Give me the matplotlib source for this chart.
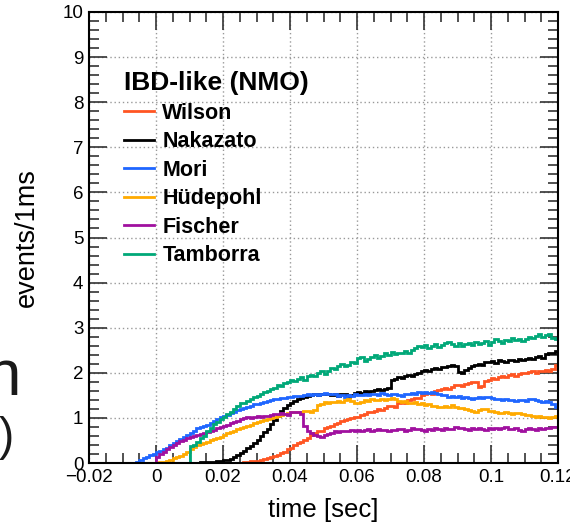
import numpy as np
import matplotlib
matplotlib.use('Agg')
import matplotlib.pyplot as plt
from matplotlib.ticker import MultipleLocator, FixedLocator, FixedFormatter

plt.rcParams['font.family'] = ['Liberation Sans', 'DejaVu Sans']

# ==================== data (events per 1 ms bin) ====================
# bins run from -0.020 s to 0.120 s, 1 ms wide; every list starts at <name>_start_ms
bin_edges_ms = list(range(-20, 121))

wilson_start_ms = 25
wilson = [0.01, 0.02, 0.02, 0.04, 0.05, 0.05, 0.07, 0.08, 0.11, 0.13,
          0.15, 0.18, 0.22, 0.25, 0.30, 0.34, 0.40, 0.44, 0.47, 0.52,
          0.56, 0.62, 0.66, 0.70, 0.72, 0.77, 0.80, 0.81, 0.86, 0.88,
          0.93, 0.95, 0.97, 0.99, 1.02, 1.03, 1.06, 1.08, 1.12, 1.13,
          1.16, 1.20, 1.18, 1.23, 1.26, 1.27, 1.25, 1.32, 1.35, 1.33,
          1.40, 1.42, 1.45, 1.44, 1.50, 1.52, 1.55, 1.53, 1.60, 1.62,
          1.63, 1.66, 1.64, 1.68, 1.72, 1.73, 1.70, 1.76, 1.78, 1.80,
          1.79, 1.68, 1.70, 1.82, 1.85, 1.88, 1.86, 1.90, 1.92, 1.90,
          1.95, 1.97, 1.94, 1.98, 2.00, 1.99, 2.02, 2.03, 2.00, 2.05,
          2.04, 2.06, 2.05, 2.08, 2.18]

nakazato_start_ms = 10
nakazato = [0.01, 0.01, 0.01, 0.02, 0.02, 0.02, 0.03, 0.03, 0.04, 0.05,
            0.06, 0.07, 0.09, 0.13, 0.18, 0.22, 0.27, 0.33, 0.38, 0.45,
            0.52, 0.60, 0.68, 0.76, 0.86, 0.95, 1.05, 1.15, 1.22, 1.28,
            1.32, 1.38, 1.42, 1.44, 1.47, 1.49, 1.50, 1.52, 1.50, 1.53,
            1.52, 1.54, 1.50, 1.52, 1.48, 1.53, 1.52, 1.47, 1.51, 1.56,
            1.57, 1.56, 1.59, 1.58, 1.60, 1.61, 1.63, 1.62, 1.64, 1.66,
            1.85, 1.86, 1.90, 1.88, 1.92, 1.95, 1.93, 1.98, 2.00, 2.03,
            2.06, 2.05, 2.08, 2.10, 2.09, 2.13, 2.12, 2.14, 2.18, 2.15,
            2.02, 2.00, 2.06, 2.10, 2.15, 2.17, 2.20, 2.18, 2.23, 2.25,
            2.26, 2.22, 2.28, 2.27, 2.25, 2.29, 2.28, 2.27, 2.30, 2.29,
            2.30, 2.32, 2.30, 2.36, 2.38, 2.33, 2.42, 2.44, 2.43, 2.48]

mori_start_ms = -6
mori = [0.03, 0.06, 0.10, 0.13, 0.18, 0.21,
        0.25, 0.27, 0.30, 0.34, 0.40, 0.44, 0.48, 0.53, 0.58, 0.62,
        0.66, 0.72, 0.77, 0.79, 0.82, 0.85, 0.88, 0.93, 0.97, 1.01,
        1.04, 1.07, 1.10, 1.14, 1.17, 1.20, 1.22, 1.25, 1.27, 1.30,
        1.31, 1.34, 1.36, 1.38, 1.40, 1.41, 1.43, 1.44, 1.45, 1.47,
        1.46, 1.48, 1.49, 1.48, 1.50, 1.52, 1.50, 1.53, 1.51, 1.54,
        1.55, 1.53, 1.54, 1.52, 1.48, 1.50, 1.47, 1.50, 1.49, 1.52,
        1.50, 1.51, 1.53, 1.50, 1.52, 1.54, 1.51, 1.55, 1.53, 1.50,
        1.52, 1.54, 1.50, 1.48, 1.52, 1.53, 1.55, 1.54, 1.57, 1.55,
        1.58, 1.56, 1.58, 1.55, 1.53, 1.51, 1.50, 1.47, 1.49, 1.46,
        1.48, 1.45, 1.47, 1.44, 1.43, 1.44, 1.46, 1.45, 1.47, 1.46,
        1.44, 1.43, 1.42, 1.40, 1.41, 1.39, 1.40, 1.38, 1.39, 1.40,
        1.38, 1.41, 1.43, 1.40, 1.37, 1.36, 1.38, 1.35, 1.30, 1.25]

hudepohl_start_ms = 0
hudepohl = [0.01, 0.02, 0.03, 0.05, 0.07, 0.10, 0.13, 0.16, 0.20, 0.25,
            0.30, 0.35, 0.40, 0.43, 0.45, 0.47, 0.50, 0.53, 0.56, 0.58,
            0.62, 0.66, 0.69, 0.72, 0.75, 0.77, 0.80, 0.82, 0.85, 0.89,
            0.91, 0.93, 0.95, 0.98, 1.00, 1.02, 1.04, 1.06, 1.08, 1.10,
            1.12, 1.13, 1.14, 1.12, 1.16, 1.15, 1.14, 1.17, 1.28, 1.30,
            1.36, 1.33, 1.36, 1.35, 1.38, 1.36, 1.40, 1.42, 1.38, 1.33,
            1.32, 1.36, 1.40, 1.38, 1.41, 1.40, 1.39, 1.42, 1.40, 1.43,
            1.45, 1.41, 1.38, 1.36, 1.37, 1.34, 1.33, 1.35, 1.31, 1.32,
            1.29, 1.30, 1.27, 1.26, 1.24, 1.25, 1.27, 1.24, 1.28, 1.25,
            1.23, 1.21, 1.19, 1.17, 1.15, 1.14, 1.17, 1.19, 1.20, 1.16,
            1.15, 1.13, 1.11, 1.10, 1.12, 1.10, 1.09, 1.11, 1.10, 1.08,
            1.06, 1.07, 1.05, 1.03, 1.04, 1.02, 1.01, 1.00, 1.02, 1.05]

fischer_start_ms = 0
fischer = [0.14, 0.20, 0.25, 0.30, 0.35, 0.40, 0.44, 0.48, 0.52, 0.55,
           0.58, 0.60, 0.62, 0.64, 0.66, 0.69, 0.71, 0.74, 0.77, 0.80,
           0.82, 0.85, 0.88, 0.91, 0.94, 0.97, 0.99, 1.01, 1.00, 1.03,
           1.04, 1.03, 1.05, 1.04, 1.07, 1.08, 1.09, 1.10, 1.08, 1.06,
           1.12, 1.14, 1.13, 1.08, 0.82, 0.72, 0.66, 0.62, 0.60, 0.58,
           0.62, 0.64, 0.66, 0.70, 0.68, 0.70, 0.72, 0.70, 0.73, 0.72,
           0.74, 0.71, 0.73, 0.75, 0.72, 0.74, 0.76, 0.73, 0.74, 0.72,
           0.74, 0.73, 0.76, 0.75, 0.72, 0.74, 0.77, 0.75, 0.76, 0.74,
           0.72, 0.75, 0.74, 0.77, 0.76, 0.74, 0.78, 0.76, 0.75, 0.79,
           0.77, 0.78, 0.76, 0.74, 0.77, 0.76, 0.78, 0.75, 0.74, 0.77,
           0.76, 0.78, 0.75, 0.77, 0.79, 0.76, 0.75, 0.78, 0.74, 0.72,
           0.75, 0.77, 0.76, 0.74, 0.77, 0.76, 0.78, 0.77, 0.79, 0.80]

tamborra_start_ms = 10
tamborra = [0.38, 0.40, 0.47, 0.55, 0.60, 0.72, 0.78, 0.87, 0.92, 0.97,
            1.02, 1.08, 1.14, 1.20, 1.26, 1.32, 1.34, 1.38, 1.42, 1.46,
            1.48, 1.53, 1.57, 1.60, 1.63, 1.67, 1.72, 1.71, 1.78, 1.80,
            1.84, 1.82, 1.86, 1.90, 1.85, 1.92, 1.96, 1.94, 2.00, 2.03,
            1.98, 2.05, 2.10, 2.08, 2.15, 2.20, 2.14, 2.18, 2.25, 2.22,
            2.33, 2.36, 2.27, 2.30, 2.35, 2.40, 2.32, 2.38, 2.44, 2.40,
            2.47, 2.42, 2.45, 2.43, 2.48, 2.44, 2.50, 2.54, 2.60, 2.57,
            2.62, 2.56, 2.60, 2.63, 2.58, 2.62, 2.67, 2.69, 2.64, 2.60,
            2.65, 2.60, 2.63, 2.66, 2.62, 2.68, 2.64, 2.66, 2.70, 2.62,
            2.69, 2.74, 2.70, 2.65, 2.72, 2.70, 2.77, 2.72, 2.74, 2.70,
            2.75, 2.80, 2.78, 2.82, 2.85, 2.80, 2.83, 2.86, 2.78, 2.76]

model_names = ['Wilson', 'Nakazato', 'Mori', 'Hüdepohl', 'Fischer', 'Tamborra']
model_colors = ['#ff5522', '#000000', '#1f66ff', '#ffaa00', '#a0109f', '#00a878']

xtick_values = [-0.02, 0, 0.02, 0.04, 0.06, 0.08, 0.1, 0.12]
xtick_labels = ['\u22120.02', '0', '0.02', '0.04', '0.06', '0.08', '0.1', '0.12']
ytick_values = list(range(0, 11))

# ==================== plot ====================
edges = np.array(bin_edges_ms) / 1000.0
series = [(wilson, wilson_start_ms), (nakazato, nakazato_start_ms),
          (mori, mori_start_ms), (hudepohl, hudepohl_start_ms),
          (fischer, fischer_start_ms), (tamborra, tamborra_start_ms)]

fig = plt.figure(figsize=(5.7, 5.24), dpi=100)
ax = fig.add_axes([89 / 570, 1 - 463 / 524, 469 / 570, 451 / 524])

for (vals, start), name, col in zip(series, model_names, model_colors):
    counts = np.zeros(len(edges) - 1)
    i0 = start - bin_edges_ms[0]
    counts[i0:i0 + len(vals)] = vals
    ax.stairs(counts, edges, color=col, lw=2.0, label=name, baseline=None)

ax.set_xlim(-0.02, 0.12)
ax.set_ylim(0, 10)
ax.xaxis.set_major_locator(FixedLocator(xtick_values))
ax.xaxis.set_major_formatter(FixedFormatter(xtick_labels))
ax.xaxis.set_minor_locator(MultipleLocator(0.005))
ax.yaxis.set_major_locator(FixedLocator(ytick_values))
ax.yaxis.set_minor_locator(MultipleLocator(0.2))

ax.grid(True, which='major', linestyle=(0, (1, 2)), color='#999999', lw=1.0)
ax.set_axisbelow(True)
ax.tick_params(which='both', direction='in', top=True, right=True,
               labelsize=13.5, width=1.2, color='#333333')
ax.tick_params(which='major', length=13, pad=4)
ax.tick_params(which='minor', length=7)
for sp in ax.spines.values():
    sp.set_linewidth(1.5)

ax.set_xlabel('time [sec]', fontsize=18.5)
ax.xaxis.set_label_coords(0.5, -0.078)
ax.set_ylabel('events/1ms', fontsize=19.5)
ax.yaxis.set_label_coords(-0.105, 0.5)

leg = ax.legend(loc='upper left', bbox_to_anchor=(0.074, 0.869), frameon=False,
                title='IBD-like (NMO)', alignment='left',
                prop={'weight': 'bold', 'size': 15.5},
                title_fontproperties={'weight': 'bold', 'size': 19},
                handlelength=1.4, handletextpad=0.4, labelspacing=0.35,
                borderaxespad=0, borderpad=0)

# bits of the neighbouring slide text cut off at the left edge
fig.text(21 / 570, 1 - 395 / 524, 'n', fontsize=46, ha='right', va='baseline', color='#1a1a1a')
fig.text(14 / 570, 1 - 450 / 524, ')', fontsize=33, ha='right', va='baseline', color='#1a1a1a')

fig.savefig('out.png', dpi=100)
